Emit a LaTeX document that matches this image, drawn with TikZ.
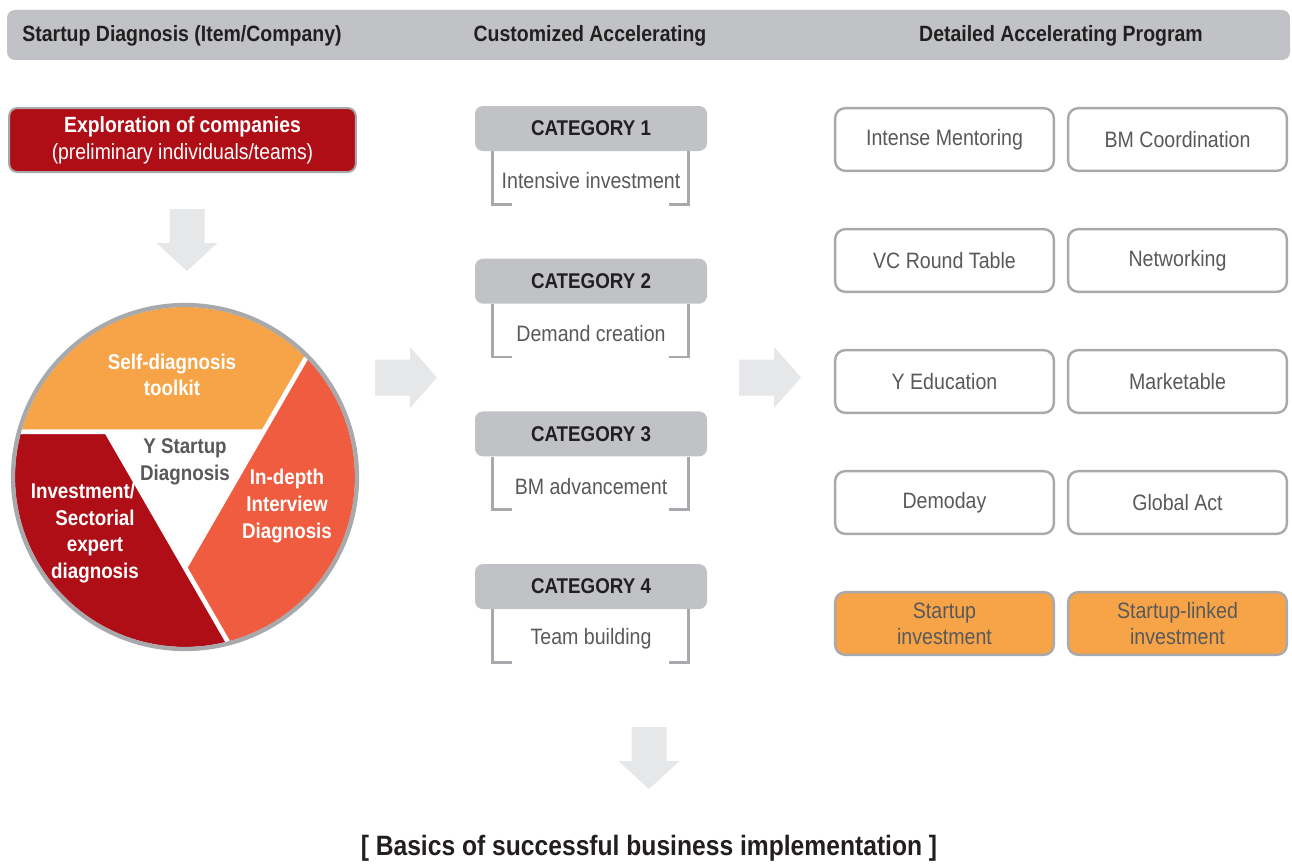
\documentclass[tikz,border=0pt]{standalone}
\usepackage{fontspec}
\setmainfont{Liberation Sans}[FakeStretch=0.88]
\usepackage{tikz}
\usetikzlibrary{calc, positioning}

\definecolor{hdrgray}{RGB}{193,194,197}
\definecolor{linegray}{RGB}{167,169,172}
\definecolor{txtgray}{RGB}{88,89,91}
\definecolor{darktxt}{RGB}{35,31,32}
\definecolor{arrowgray}{RGB}{230,231,232}
\definecolor{dkred}{RGB}{176,14,23}
\definecolor{boxorange}{RGB}{247,164,72}
\definecolor{redorange}{RGB}{239,92,64}

\tikzset{
    bar/.style={fill=hdrgray, rounded corners=6pt, minimum width=962.25pt, minimum height=37.5pt},
    hdrtext/.style={text=darktxt, font=\fontsize{16.6}{19}\selectfont\bfseries},
    explbox/.style={fill=dkred, draw=linegray, line width=1.5pt, rounded corners=6pt,
        minimum width=260pt, minimum height=48pt, text=white, align=center,
        font=\fontsize{16.5}{20}\selectfont},
    catbox/.style={fill=hdrgray, rounded corners=6pt, minimum width=174pt, minimum height=33.75pt,
        text=darktxt, font=\fontsize{16}{19}\selectfont\bfseries},
    cattext/.style={text=txtgray, font=\fontsize{16.7}{19}\selectfont},
    bracket/.style={draw=linegray, line width=2pt},
    progbox/.style={draw=linegray, line width=1.8pt, fill=white, rounded corners=7.5pt,
        minimum width=164pt, minimum height=47pt, text=txtgray, align=center,
        font=\fontsize{16.7}{19.5}\selectfont},
    invbox/.style={progbox, fill=boxorange},
    pietext/.style={text=white, align=center, font=\fontsize{16}{20}\selectfont\bfseries},
    gap/.style={white, line width=3.5pt},
    rarrow/.pic={\fill[arrowgray] (0,-18) -- (35,-18) -- (35,-30.5) -- (62,0) -- (35,30.5) -- (35,18) -- (0,18) -- cycle;},
    darrow/.pic={\fill[arrowgray] (-17.5,0) -- (17.5,0) -- (17.5,34) -- (30.5,34) -- (0,62) -- (-30.5,34) -- (-17.5,34) -- cycle;}
}

\begin{document}
\begin{tikzpicture}[x=0.75pt, y=-0.75pt]
    \useasboundingbox (0,0) rectangle (1292,867);

    % header
    \node[bar] (bar) at (648.5,35) {};
    \node[hdrtext] (hdr1) at (182,36) {Startup Diagnosis (Item/Company)};
    \node[hdrtext] (hdr2) at (590,36) {Customized Accelerating};
    \node[hdrtext] (hdr3) at (1061,36) {Detailed Accelerating Program};

    % diagnosis column
    \node[explbox] (expl) at (182.5,140) {\textbf{Exploration of companies}\\(preliminary individuals/teams)};
    \pic at (187,209) {darrow};

    \begin{scope}[shift={(185,477)}, y=0.75pt]
        \fill[boxorange] (44.54:170) arc[start angle=44.54, end angle=164.54, radius=127.5pt] -- (30:90.6) -- cycle;
        \fill[dkred] (164.54:170) arc[start angle=164.54, end angle=284.54, radius=127.5pt] -- (150:90.6) -- cycle;
        \fill[redorange] (284.54:170) arc[start angle=284.54, end angle=404.54, radius=127.5pt] -- (270:90.6) -- cycle;
        \draw[gap] (164.54:170) -- (30:90.6);
        \draw[gap] (44.54:170) -- (270:90.6);
        \draw[gap] (284.54:170) -- (150:90.6);
        \draw[linegray, line width=3.2pt] (0,0) circle[radius=129pt];
    \end{scope}
    \node[pietext] (self) at (172,375) {Self-diagnosis\\toolkit};
    \node[pietext, text=txtgray] (ydiag) at (185,462) {Y Startup\\Diagnosis};
    \node[pietext] (indepth) at (287,506) {In-depth\\Interview\\Diagnosis};
    \node[pietext] (expert) at (95,533) {Investment/\kern18pt\\Sectorial\\expert\\diagnosis};

    \pic at (375,377.5) {rarrow};

    % categories
    \node[catbox] (cat1) at (591,128.5) {CATEGORY 1};
    \node[cattext] (sub1) at (591,181) {Intensive investment};
    \draw[bracket] ([xshift=13.5pt]cat1.south west) -- ++(0,53) -- ++(19,0);
    \draw[bracket] ([xshift=-14.25pt]cat1.south east) -- ++(0,53) -- ++(-19,0);

    \node[catbox] (cat2) at (591,281.2) {CATEGORY 2};
    \node[cattext] (sub2) at (591,334) {Demand creation};
    \draw[bracket] ([xshift=13.5pt]cat2.south west) -- ++(0,53) -- ++(19,0);
    \draw[bracket] ([xshift=-14.25pt]cat2.south east) -- ++(0,53) -- ++(-19,0);

    \node[catbox] (cat3) at (591,433.9) {CATEGORY 3};
    \node[cattext] (sub3) at (591,486.5) {BM advancement};
    \draw[bracket] ([xshift=13.5pt]cat3.south west) -- ++(0,53) -- ++(19,0);
    \draw[bracket] ([xshift=-14.25pt]cat3.south east) -- ++(0,53) -- ++(-19,0);

    \node[catbox] (cat4) at (591,586.6) {CATEGORY 4};
    \node[cattext] (sub4) at (591,639) {Team building};
    \draw[bracket] ([xshift=13.5pt]cat4.south west) -- ++(0,53) -- ++(19,0);
    \draw[bracket] ([xshift=-14.25pt]cat4.south east) -- ++(0,53) -- ++(-19,0);

    \pic at (739,377.5) {rarrow};

    % program
    \node[progbox] (ment) at (944.5,139.5) {Intense Mentoring};
    \node[progbox] (bmco) at (1177.5,139.5) {BM Coordination};
    \node[progbox] (vcrt) at (944.5,260.5) {VC Round Table};
    \node[progbox] (netw) at (1177.5,260.5) {Networking};
    \node[progbox] (yedu) at (944.5,381.5) {Y Education};
    \node[progbox] (mkt) at (1177.5,381.5) {Marketable};
    \node[progbox] (demo) at (944.5,502.5) {Demoday};
    \node[progbox] (glob) at (1177.5,502.5) {Global Act};
    \node[invbox] (sinv) at (944.5,623.5) {Startup\\investment};
    \node[invbox] (slinv) at (1177.5,623.5) {Startup-linked\\investment};

    % result
    \pic at (649,727) {darrow};
    \node[text=darktxt, font=\fontsize{21}{25}\selectfont\bfseries] (basics) at (649,848) {[ Basics of successful business implementation ]};
\end{tikzpicture}
\end{document}
